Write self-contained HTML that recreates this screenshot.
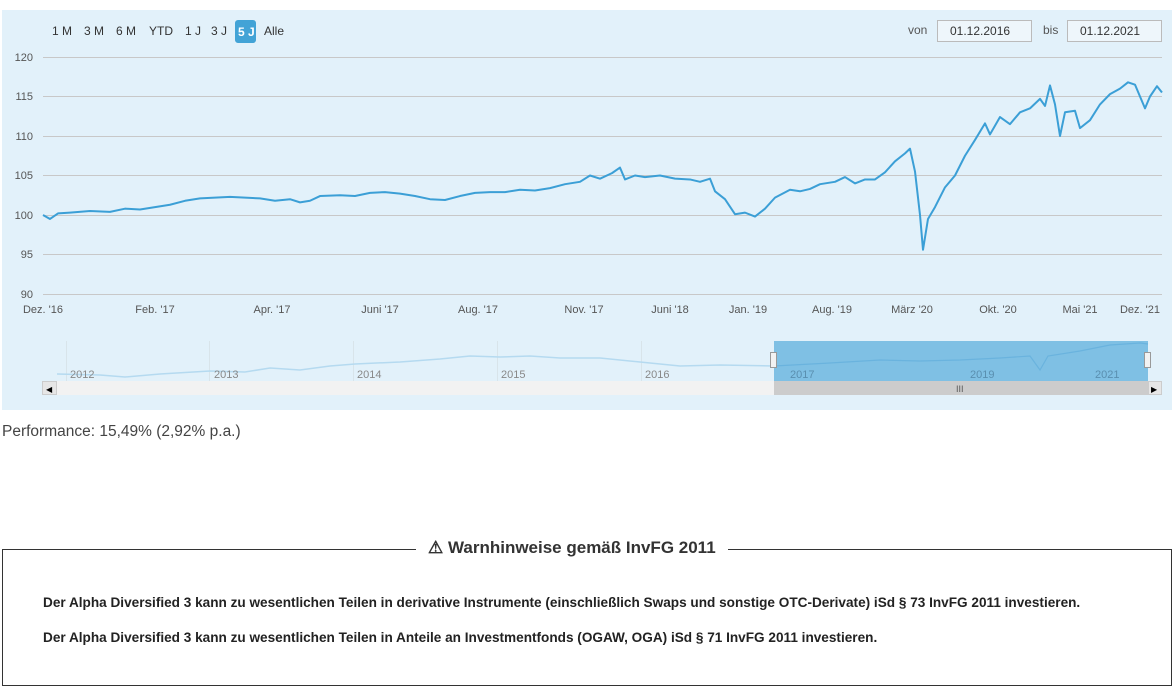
<!DOCTYPE html>
<html><head><meta charset="utf-8"><style>
body{margin:0;width:1175px;height:690px;background:#fff;font-family:"Liberation Sans",sans-serif;overflow:hidden;position:relative}
.t{position:absolute;font-size:12px;color:#333;white-space:nowrap}
</style></head><body>
<div style="position:absolute;left:2px;top:10px;width:1170px;height:400px;background:#e2f1fa"></div>
<svg style="position:absolute;left:0;top:0" width="1175" height="420">
<g font-family="Liberation Sans" font-size="12" fill="#333">
<text x="52" y="35">1 M</text><text x="84" y="35">3 M</text><text x="116" y="35">6 M</text><text x="149" y="35">YTD</text><text x="185" y="35">1 J</text><text x="211" y="35">3 J</text>
<rect x="235" y="20" width="21" height="23" rx="3" fill="#42a3d6"/><text x="238" y="36" fill="#fff" font-weight="bold">5 J</text>
<text x="264" y="35">Alle</text>
<text x="908" y="34" fill="#555">von</text>
<rect x="937.5" y="20.5" width="94" height="21" fill="#eef6fb" stroke="#bbb"/><text x="950" y="35">01.12.2016</text>
<text x="1043" y="34" fill="#555">bis</text>
<rect x="1067.5" y="20.5" width="94" height="21" fill="#eef6fb" stroke="#bbb"/><text x="1080" y="35">01.12.2021</text>
</g>
<g stroke="#c8c8c8" stroke-width="1">
<line x1="43" x2="1162" y1="57.5" y2="57.5"/><line x1="43" x2="1162" y1="96.5" y2="96.5"/><line x1="43" x2="1162" y1="136.5" y2="136.5"/><line x1="43" x2="1162" y1="175.5" y2="175.5"/><line x1="43" x2="1162" y1="215.5" y2="215.5"/><line x1="43" x2="1162" y1="254.5" y2="254.5"/><line x1="43" x2="1162" y1="294.5" y2="294.5"/>
</g>
<g font-family="Liberation Sans" font-size="11" fill="#555" text-anchor="end">
<text x="33" y="61">120</text><text x="33" y="100">115</text><text x="33" y="140">110</text><text x="33" y="179">105</text><text x="33" y="219">100</text><text x="33" y="258">95</text><text x="33" y="298">90</text>
</g>
<g font-family="Liberation Sans" font-size="11" fill="#555" text-anchor="middle">
<text x="43" y="313">Dez. '16</text><text x="155" y="313">Feb. '17</text><text x="272" y="313">Apr. '17</text><text x="380" y="313">Juni '17</text><text x="478" y="313">Aug. '17</text><text x="584" y="313">Nov. '17</text><text x="670" y="313">Juni '18</text><text x="748" y="313">Jan. '19</text><text x="832" y="313">Aug. '19</text><text x="912" y="313">März '20</text><text x="998" y="313">Okt. '20</text><text x="1080" y="313">Mai '21</text><text x="1140" y="313">Dez. '21</text>
</g>
<g transform="translate(0,294) scale(1,-7.9) translate(0,-90)">
<polyline vector-effect="non-scaling-stroke" fill="none" stroke="#3b9fd6" stroke-width="2" stroke-linejoin="round" points="43,100 50,99.5 58,100.2 70,100.3 90,100.5 110,100.4 125,100.8 140,100.7 155,101 170,101.3 185,101.8 200,102.1 215,102.2 230,102.3 245,102.2 260,102.1 275,101.8 290,102 300,101.6 310,101.8 320,102.4 340,102.5 355,102.4 370,102.8 385,102.9 400,102.7 415,102.4 430,102 445,101.9 460,102.4 475,102.8 490,102.9 505,102.9 520,103.2 535,103.1 550,103.4 565,103.9 580,104.2 590,105 600,104.6 612,105.3 620,106 625,104.5 635,105 645,104.8 660,105 675,104.6 690,104.5 700,104.2 710,104.6 715,103 725,102 735,100.1 745,100.3 755,99.8 765,100.8 775,102.2 790,103.2 800,103 810,103.3 820,103.9 835,104.2 845,104.8 855,104 865,104.5 875,104.5 885,105.4 895,106.8 905,107.8 910,108.4 915,105.5 920,100 923,95.6 928,99.5 935,101 945,103.5 955,105 965,107.5 975,109.5 985,111.6 990,110.2 1000,112.4 1010,111.5 1020,113 1030,113.5 1040,114.7 1045,113.8 1050,116.4 1055,114 1060,110 1065,113 1075,113.2 1080,111 1090,112 1100,114 1110,115.3 1120,116 1128,116.8 1135,116.5 1140,115 1145,113.5 1150,115 1157,116.3 1162,115.5"/>
</g>
<g stroke="#d8e4ea" stroke-width="1">
<line x1="66.5" x2="66.5" y1="341" y2="381"/><line x1="209.5" x2="209.5" y1="341" y2="381"/><line x1="353.5" x2="353.5" y1="341" y2="381"/><line x1="497.5" x2="497.5" y1="341" y2="381"/><line x1="641.5" x2="641.5" y1="341" y2="381"/>
</g>
<polyline fill="none" stroke="#b5daf0" stroke-width="1.5" points="57,374 100,375 125,377 160,374 210,371 245,372 270,368 300,370 330,366 355,364 400,362 440,359 470,356 500,357 530,356 560,358 600,358 640,362 680,366 720,365 774,366"/>
<rect x="774" y="341" width="374" height="40" fill="#7fc0e4"/>
<polyline fill="none" stroke="#6ab3de" stroke-width="1.2" points="774,366 830,363 880,360 920,361 960,360 1000,358 1030,356 1040,370 1048,356 1080,351 1110,345 1140,343 1148,344"/>
<g font-family="Liberation Sans" font-size="11" fill="#888">
<text x="70" y="378">2012</text><text x="214" y="378">2013</text><text x="357" y="378">2014</text><text x="501" y="378">2015</text><text x="645" y="378">2016</text><text x="790" y="378" fill="#5a8fb0">2017</text><text x="970" y="378" fill="#5a8fb0">2019</text><text x="1095" y="378" fill="#5a8fb0">2021</text>
</g>
<rect x="770.5" y="352.5" width="6" height="15" fill="#f2f2f2" stroke="#999"/><rect x="1144.5" y="352.5" width="6" height="15" fill="#f2f2f2" stroke="#999"/>
<rect x="57" y="381" width="1091" height="14" fill="#f2f2f2"/>
<rect x="774" y="381" width="374" height="14" fill="#cccccc"/>
<text x="956" y="392" font-size="9" fill="#555" font-family="Liberation Sans">III</text>
<rect x="42.5" y="381.5" width="14" height="13" fill="#e6e6e6" stroke="#ccc"/><text x="46" y="392" font-size="8">◀</text>
<rect x="1148.5" y="381.5" width="13" height="13" fill="#e6e6e6" stroke="#ccc"/><text x="1151" y="392" font-size="8">▶</text>
</svg>
<div class="t" style="left:2px;top:423px;font-size:15.5px;color:#444">Performance: 15,49% (2,92% p.a.)</div>
<div style="position:absolute;left:2px;top:549px;width:1168px;height:135px;border:1px solid #333"></div>
<div style="position:absolute;left:416px;top:538px;padding:0 12px;background:#fff;font-size:17px;font-weight:bold;color:#333">⚠ Warnhinweise gemäß InvFG 2011</div>
<div class="t" style="left:43px;top:595px;font-size:13.6px;font-weight:bold;color:#222">Der Alpha Diversified 3 kann zu wesentlichen Teilen in derivative Instrumente (einschließlich Swaps und sonstige OTC-Derivate) iSd § 73 InvFG 2011 investieren.</div>
<div class="t" style="left:43px;top:630px;font-size:13.6px;font-weight:bold;color:#222">Der Alpha Diversified 3 kann zu wesentlichen Teilen in Anteile an Investmentfonds (OGAW, OGA) iSd § 71 InvFG 2011 investieren.</div>
</body></html>
